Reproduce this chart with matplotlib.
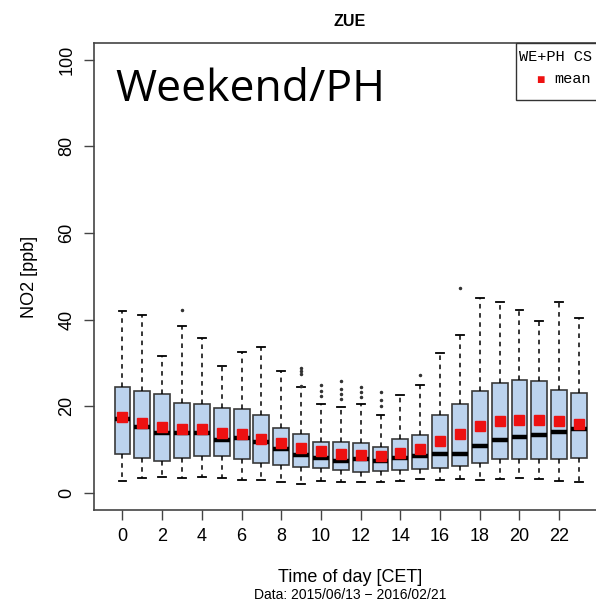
import matplotlib
matplotlib.use("Agg")
import matplotlib.pyplot as plt
from matplotlib.patches import Rectangle

hours = list(range(24))
whisk_lo = [2.8, 3.5, 3.6, 3.3, 3.6, 3.5, 3.0, 3.0, 2.4, 2.1, 2.7, 2.4,
            2.4, 2.5, 2.8, 3.2, 3.0, 3.2, 2.9, 3.2, 3.3, 3.2, 2.7, 2.5]
q1 = [9.0, 8.0, 7.4, 8.0, 8.4, 8.5, 7.7, 6.8, 6.3, 6.0, 5.6, 5.3,
      4.7, 4.9, 5.2, 5.4, 5.6, 6.1, 6.8, 7.8, 7.7, 7.8, 7.8, 7.9]
median = [17.1, 15.2, 13.8, 13.8, 13.8, 12.2, 12.6, 11.6, 10.0, 8.7, 8.0, 7.4,
          7.7, 7.3, 8.0, 8.4, 9.0, 9.0, 10.9, 12.2, 12.8, 13.4, 14.1, 14.7]
q3 = [24.3, 23.4, 22.7, 20.8, 20.5, 19.6, 19.4, 17.9, 15.0, 13.5, 11.7, 11.6,
      11.4, 10.6, 12.4, 13.4, 17.9, 20.5, 23.4, 25.3, 26.0, 25.8, 23.8, 23.1]
whisk_hi = [41.9, 41.1, 31.6, 38.4, 35.7, 29.2, 32.4, 33.6, 28.0, 24.4, 20.6, 19.9,
            20.4, 17.9, 22.5, 24.9, 32.2, 36.4, 44.9, 44.0, 42.2, 39.6, 44.0, 40.3]
mean = [17.6, 16.2, 15.2, 14.8, 14.7, 13.9, 13.6, 12.5, 11.5, 10.4, 9.7, 9.0,
        8.8, 8.4, 9.1, 10.1, 12.0, 13.6, 15.5, 16.5, 16.9, 16.9, 16.5, 15.9]
outliers = [[], [], [], [42.1], [], [], [], [], [],
            [27.5, 28.2, 28.9, 24.6], [22.3, 23.4, 24.8], [21.6, 22.8, 24.0, 25.8],
            [22.0, 23.2, 24.5], [20.0, 21.5, 23.3], [], [27.1], [], [47.3],
            [], [], [], [], [], []]
xtick_labels = list(range(0, 24, 2))
yticks = [0, 20, 40, 60, 80, 100]

plt.rcParams['font.family'] = ['Liberation Sans', 'DejaVu Sans']

fig = plt.figure(figsize=(5.96, 6.05), dpi=100)
# plot region runs past the right edge of the picture, as in the original
ax = fig.add_axes([93.5 / 596, 1 - 510 / 605, 514.5 / 596, 467.5 / 605])

stats = []
for i in hours:
    stats.append(dict(whislo=whisk_lo[i], q1=q1[i], med=median[i], q3=q3[i],
                      whishi=whisk_hi[i], fliers=outliers[i]))

ax.bxp(stats, positions=hours, widths=0.8, patch_artist=True,
       boxprops=dict(facecolor='#bcd3ee', edgecolor='#3a3a3a', linewidth=1.2),
       medianprops=dict(color='black', linewidth=3.2, solid_capstyle='butt'),
       whiskerprops=dict(color='black', linestyle=(0, (3, 3)), linewidth=1.1),
       capprops=dict(color='black', linewidth=1.3),
       flierprops=dict(marker='.', markersize=3, markerfacecolor='#333333',
                       markeredgecolor='#333333'),
       capwidths=0.4)

ax.plot(hours, mean, 's', color='#ee1111', markersize=6.5, zorder=5)

ax.set_xlim(-1.46, 24.46)
ax.set_ylim(-4, 104)
ax.set_xticks(xtick_labels)
ax.set_xticklabels([str(h) for h in xtick_labels], fontsize=13)
ax.set_yticks(yticks)
ax.set_yticklabels([str(v) for v in yticks], fontsize=13, rotation=90, va='center')
ax.tick_params(axis='both', length=7, width=1, color='#444444', pad=6)
for s in ax.spines.values():
    s.set_color('#444444')
    s.set_linewidth(1.2)

ax.text(0.043, 0.874, 'Weekend/PH', transform=ax.transAxes, fontsize=32,
        family='Open Sans', va='baseline', ha='left')

fig.text(350 / 596, 1 - 21 / 605, 'ZUE', fontsize=11.5, fontweight='bold',
         ha='center', va='center')
fig.text(30 / 596, 1 - 277 / 605, 'NO2 [ppb]', fontsize=13, rotation=90,
         ha='center', va='center')
fig.text(350 / 596, 1 - 577 / 605, 'Time of day [CET]', fontsize=13,
         ha='center', va='center')
fig.text(350 / 596, 1 - 595 / 605, 'Data: 2015/06/13 \u2212 2016/02/21', fontsize=10,
         ha='center', va='center')

# legend box, cut off at the right edge like the original
fig.patches.append(Rectangle((516 / 596, 1 - 100 / 605), 120 / 596, 57.3 / 605,
                             transform=fig.transFigure, facecolor='white',
                             edgecolor='#333333', linewidth=1.0, zorder=6))
fig.text(519 / 596, 1 - 57 / 605, 'WE+PH CS', family='Liberation Mono',
         fontsize=11, ha='left', va='center', zorder=7)
fig.text(540 / 596, 1 - 80 / 605, '\u25a0', color='#ee1111', fontsize=10,
         ha='center', va='center', zorder=7)
fig.text(554 / 596, 1 - 79 / 605, 'mean', family='Liberation Mono',
         fontsize=11, ha='left', va='center', zorder=7)

fig.savefig('out.png', dpi=100)
